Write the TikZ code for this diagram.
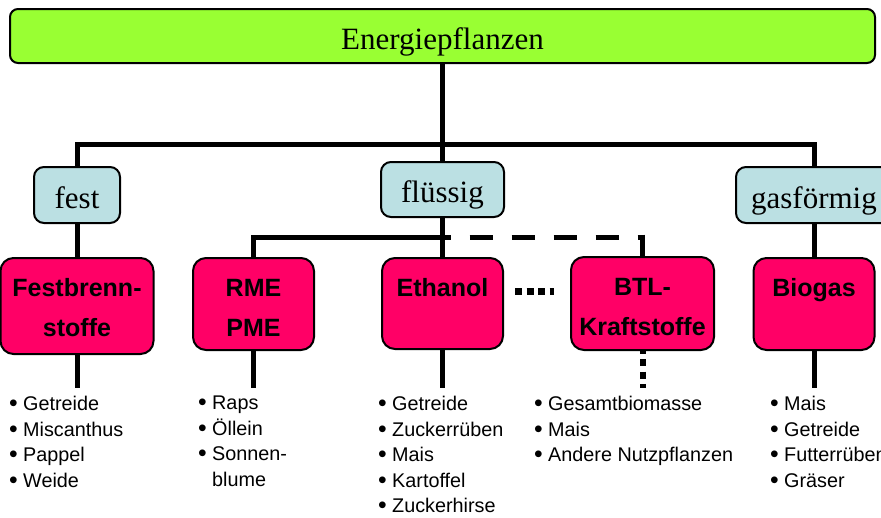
\documentclass[tikz,border=0pt]{standalone}
\usepackage{graphicx}
\usepackage{fontspec}
\setmainfont{Liberation Sans}
\newfontfamily\serifface{Liberation Serif}
\usetikzlibrary{positioning}

\definecolor{plantgreen}{RGB}{153,255,51}
\definecolor{statecyan}{RGB}{187,224,227}
\definecolor{fuelpink}{RGB}{255,0,102}

\newcommand{\fueltext}[3]{\parbox[c][#2pt][t]{#1pt}{\centering\rule{0pt}{38pt}#3}}
\newcommand{\itm}{\makebox[15pt][l]{\hspace{1pt}\raisebox{-1pt}{\scalebox{1.25}{\textbullet}}}}

\tikzset{
    plantbox/.style={draw, fill=plantgreen, line width=2pt, rounded corners=8pt, minimum width=865pt, minimum height=54pt, text height=26pt, text depth=0pt, font=\serifface\fontsize{31}{36}\selectfont},
    statebox/.style={draw, fill=statecyan, line width=2pt, rounded corners=10pt, minimum height=56pt, text height=26pt, text depth=0pt, font=\serifface\fontsize{31}{36}\selectfont},
    fuelbox/.style={draw, fill=fuelpink, line width=2pt, rounded corners=13pt, inner sep=0pt, anchor=north, font=\bfseries\fontsize{25}{40}\selectfont},
    croplist/.style={anchor=north west, align=left, inner xsep=0pt, inner ysep=8pt, font=\fontsize{19.8}{25.5}\selectfont},
    conn/.style={line width=5pt}
}

\begin{document}
\begin{tikzpicture}[x=1pt, y=-1pt]
        \useasboundingbox (0,0) rectangle (881,517);
        \clip (0,0) rectangle (881,517);

        % Top Node: Energiepflanzen
        \node[plantbox] at (442.5,36) (top) {Energiepflanzen};

        % States: fest, fluessig, gasfoermig
        \node[statebox, minimum width=86pt] at (77,195) (fest) {fest};
        \node[statebox, minimum width=123pt, minimum height=55pt] at (442.5,189.5) (fluessig) {flüssig};
        \node[statebox, minimum width=156pt] at (814,195) (gas) {gasförmig};

        % Fuel Nodes
        \node[fuelbox] at (77,257) (fbs) {\fueltext{153}{96}{Festbrenn-\\stoffe}};
        \node[fuelbox] at (253.5,257) (rme) {\fueltext{121}{92}{RME\\PME}};
        \node[fuelbox] at (442.5,257) (eth) {\fueltext{121}{91}{Ethanol}};
        \node[fuelbox] at (642.5,256) (btl) {\fueltext{143}{93}{BTL-\\Kraftstoffe}};
        \node[fuelbox] at (814,257) (bio) {\fueltext{121}{92}{Biogas}};

        % Crop Lists
        \node[croplist] at (8,388) (lfbs) {\itm Getreide\\\itm Miscanthus\\\itm Pappel\\\itm Weide};
        \node[croplist] at (197,388) (lrme) {\itm Raps\\\itm Öllein\\\itm Sonnen-\\\hspace*{15pt}blume};
        \node[croplist] at (377,388) (leth) {\itm Getreide\\\itm Zuckerrüben\\\itm Mais\\\itm Kartoffel\\\itm Zuckerhirse};
        \node[croplist] at (533,388) (lbtl) {\itm Gesamtbiomasse\\\itm Mais\\\itm Andere Nutzpflanzen};
        \node[croplist] at (769,388) (lbio) {\itm Mais\\\itm Getreide\\\itm Futterrüben\\\itm Gräser};

        % Top bus
        \coordinate (bus) at (442.5,144);
        \draw[conn] (top.south) -- (bus);
        \draw[conn] (fest.north) |- (bus) -| (gas.north);
        \draw[conn] (bus) -- (fluessig.north);

        % Liquid branch
        \coordinate (split) at (442.5,237);
        \coordinate (btlup) at (btl.north |- split);
        \draw[conn] (fluessig.south) -- (eth.north);
        \draw[conn] (split) -| (rme.north);
        \draw[conn, dash pattern=on 23pt off 19pt, dash phase=15pt] (split) -- (btlup);
        \draw[conn] ([yshift=2.5pt]btlup) -- (btl.north);
        \draw[line width=7pt, dash pattern=on 7pt off 4.5pt, shorten <=11pt, shorten >=16pt] ([yshift=12pt]eth.east) -- ([yshift=12pt]btl.west);

        % Solid and gaseous branches
        \draw[conn] (fest.south) -- (fbs.north);
        \draw[conn] (gas.south) -- (bio.north);

        % Fuels to crops
        \draw[conn] (fbs.south) -- (fbs.south |- lfbs.north);
        \draw[conn] (rme.south) -- (rme.south |- lrme.north);
        \draw[conn] (eth.south) -- (eth.south |- leth.north);
        \draw[line width=6pt, dash pattern=on 7pt off 5.3pt, dash phase=4pt] (btl.south) -- (btl.south |- lbtl.north);
        \draw[conn] (bio.south) -- (bio.south |- lbio.north);

    \end{tikzpicture}
\end{document}
